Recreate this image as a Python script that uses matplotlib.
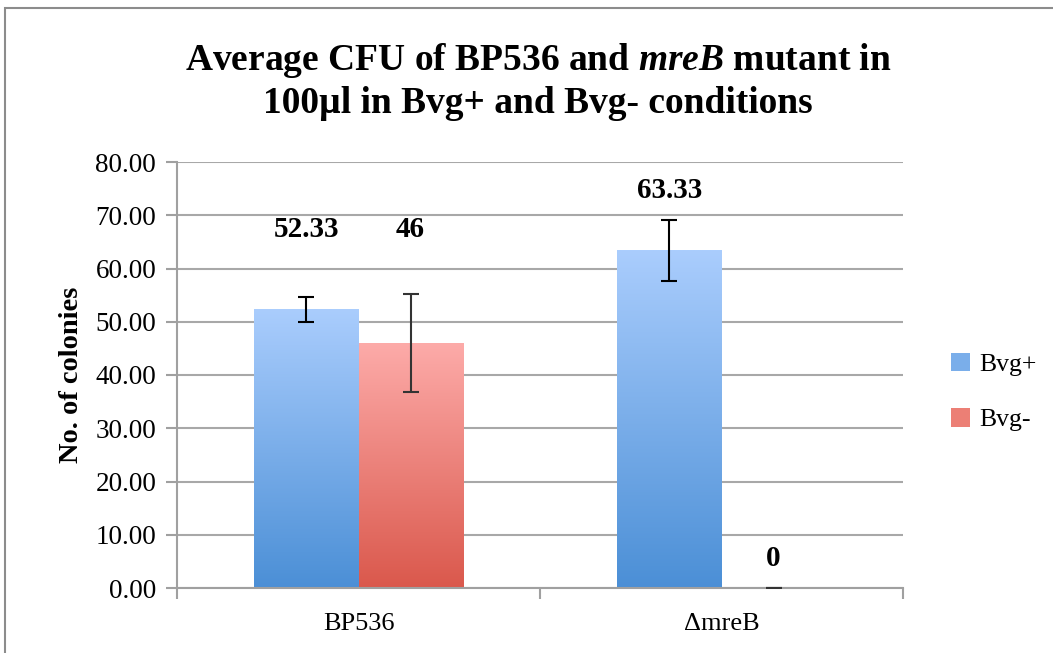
import numpy as np
import matplotlib
matplotlib.use("Agg")
import matplotlib.pyplot as plt
from matplotlib.patches import Patch, Rectangle
from matplotlib.colors import to_rgb

# --- data ---
categories = ["BP536", "ΔmreB"]
series = ["Bvg+", "Bvg-"]
bvg_plus = [52.33, 63.33]
bvg_minus = [46.0, 0.0]
err_plus = [2.4, 5.7]
err_minus = [9.2, 0.0]
labels_plus = ["52.33", "63.33"]
labels_minus = ["46", "0"]
label_y_plus = [67.3, 74.7]      # where the data labels sit (value units)
label_y_minus = [67.3, 5.6]

# gradient top / bottom colours per series
grad = {"Bvg+": ("#aacdfd", "#4b8fd6"), "Bvg-": ("#fdaba9", "#da584c")}

SERIF = ["Liberation Serif", "DejaVu Serif"]
plt.rcParams["font.family"] = SERIF
plt.rcParams["mathtext.fontset"] = "custom"
plt.rcParams["mathtext.bfit"] = "Liberation Serif:italic:bold"
plt.rcParams["mathtext.it"] = "Liberation Serif:italic"
plt.rcParams["mathtext.rm"] = "Liberation Serif"
plt.rcParams["mathtext.bf"] = "Liberation Serif:bold"

fig = plt.figure(figsize=(10.53, 6.53), dpi=100)
ax = fig.add_axes([177/1053, 1 - 588/653, 726/1053, 426/653])

x = np.arange(len(categories))
w = 0.287

def grad_bar(xc, h, name):
    top, bot = (np.array(to_rgb(c)) for c in grad[name])
    if h <= 0:
        return
    t = np.linspace(0, 1, 256)[:, None, None]
    img = top * (1 - t) + bot * t
    ax.imshow(img, extent=[xc - w/2, xc + w/2, 0, h], aspect="auto",
              origin="upper", zorder=2, interpolation="bilinear")

for i in range(len(categories)):
    grad_bar(x[i] - w/2, bvg_plus[i], "Bvg+")
    grad_bar(x[i] + w/2, bvg_minus[i], "Bvg-")

ax.errorbar(x - w/2, bvg_plus, yerr=err_plus, fmt="none", ecolor="black",
            elinewidth=1.5, capsize=6, capthick=1.5, zorder=3)
ax.errorbar(x + w/2, bvg_minus, yerr=err_minus, fmt="none", ecolor="#333333",
            elinewidth=1.5, capsize=6, capthick=1.5, zorder=3)

for i in range(len(categories)):
    ax.text(x[i] - w/2, label_y_plus[i], labels_plus[i], ha="center", va="center",
            fontsize=21, fontweight="bold")
    ax.text(x[i] + w/2, label_y_minus[i], labels_minus[i], ha="center", va="center",
            fontsize=21, fontweight="bold")

ax.set_xlim(-0.5, len(categories) - 0.5)
ax.set_ylim(0, 80)
ax.set_yticks(np.arange(0, 81, 10))
ax.set_yticklabels([f"{v:.2f}" for v in np.arange(0, 81, 10)], fontsize=19.5)
ax.yaxis.grid(True, color="#a8a8a8", lw=1.5)
ax.set_axisbelow(True)

ax.set_xticks(x)
ax.set_xticklabels(categories, fontsize=19)
ax.set_xticks(np.arange(-0.5, len(categories)), minor=True)
ax.tick_params(axis="x", which="major", length=0, pad=18)
ax.tick_params(axis="x", which="minor", length=8, width=1.5, color="#a0a0a0")
ax.tick_params(axis="y", length=8, width=1.5, color="#a0a0a0", pad=7)

for s in ["top", "right"]:
    ax.spines[s].set_visible(False)
for s in ["left", "bottom"]:
    ax.spines[s].set_color("#a0a0a0")
    ax.spines[s].set_linewidth(1.5)

ax.set_ylabel("No. of colonies", fontsize=20.5, fontweight="bold", labelpad=8)

fig.text(538/1053, 1 - 81/653, "Average CFU of BP536 and $\\mathbfit{mreB}$ mutant in\n"
         "100µl in Bvg+ and Bvg- conditions", ha="center", va="center",
         fontsize=27, fontweight="bold", linespacing=1.2)

handles = [Patch(facecolor="#7aaeea", label="Bvg+"),
           Patch(facecolor="#ec7f75", label="Bvg-")]
fig.legend(handles=handles, loc="center left",
           bbox_to_anchor=(951/1053, 1 - 392/653), frameon=False,
           fontsize=18.5, labelspacing=1.25, handlelength=0.75, handleheight=0.75,
           handletextpad=0.35, borderpad=0, borderaxespad=0)

fig.patches.append(Rectangle((5/1053, -0.1), 1.2, 1.1 - 8/653, fill=False,
                             edgecolor="#8c8c8c", lw=1.5,
                             transform=fig.transFigure, figure=fig))

fig.savefig("out.png", dpi=100)
